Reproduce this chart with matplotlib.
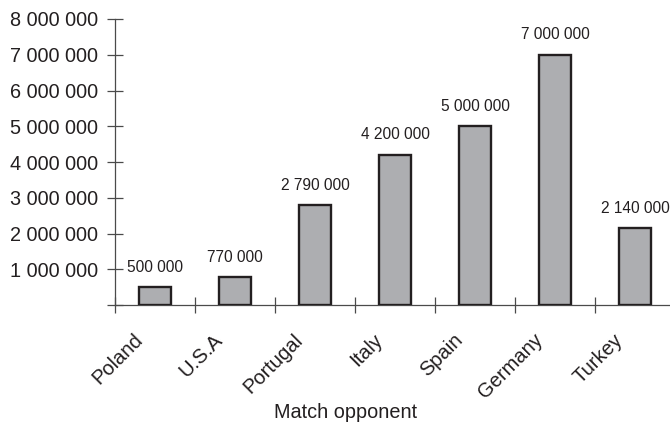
import matplotlib
matplotlib.use("Agg")
from matplotlib import pyplot as plt
from matplotlib.ticker import FixedLocator, NullFormatter
from matplotlib.transforms import ScaledTranslation
import numpy as np

# match opponents and viewer numbers
opponents = ["Poland", "U.S.A", "Portugal", "Italy", "Spain", "Germany", "Turkey"]
viewers = [500000, 770000, 2790000, 4200000, 5000000, 7000000, 2140000]
y_ticks = [0, 1000000, 2000000, 3000000, 4000000, 5000000, 6000000, 7000000, 8000000]


def spaced(n):
    # 2790000 -> "2 790 000"
    return "{:,}".format(n).replace(",", " ")


plt.rcParams["font.family"] = ["Liberation Sans", "DejaVu Sans"]
text_col = "#231f20"
axis_col = "#4a4a4a"

fig = plt.figure(figsize=(6.70, 4.25), dpi=100)
W, H = 670.0, 425.0
# plot area: y axis at x=115px, zero line at y=305px, top tick at y=19px, 80px per category
ax = fig.add_axes([115 / W, 1 - 305 / H, 560 / W, (305 - 19) / H])

x = np.arange(len(opponents))
ax.bar(x, viewers, width=0.41, color="#adaeb1", edgecolor="#231f20", linewidth=1.7, zorder=3)

for xi, v in zip(x, viewers):
    ax.annotate(spaced(v), (xi, v), xytext=(0, 9), textcoords="offset points",
                ha="center", va="bottom", fontsize=11.2, color=text_col)

ax.set_xlim(-0.5, len(opponents) - 0.5)
ax.set_ylim(0, 8000000)

# y axis
ax.set_yticks(y_ticks)
ax.set_yticklabels([""] + [spaced(t) for t in y_ticks[1:]])
ax.tick_params(axis="y", direction="inout", length=11, width=0.9, color=axis_col,
               labelsize=14.3, labelcolor=text_col, pad=7)

# x axis: tick marks between categories, names under each bar
ax.xaxis.set_major_locator(FixedLocator(np.arange(-0.5, len(opponents) - 0.5, 1.0)))
ax.xaxis.set_major_formatter(NullFormatter())
ax.set_xticks(x, minor=True)
ax.set_xticklabels(opponents, minor=True, rotation=45, ha="right", va="top",
                   rotation_mode="anchor")
ax.tick_params(axis="x", which="major", direction="inout", length=11, width=0.9, color=axis_col)
ax.tick_params(axis="x", which="minor", length=0, labelsize=14.5, labelcolor=text_col, pad=18)
shift = ScaledTranslation(-0.22, 0, fig.dpi_scale_trans)
for lab in ax.get_xticklabels(minor=True):
    lab.set_transform(lab.get_transform() + shift)

ax.set_xlabel("Match opponent", fontsize=14.3, color=text_col)
ax.xaxis.set_label_coords((346 - 115) / 560, -(418 - 305) / 286, transform=ax.transAxes)
ax.xaxis.label.set_va("baseline")

for side in ("top", "right"):
    ax.spines[side].set_visible(False)
for side in ("left", "bottom"):
    ax.spines[side].set_color(axis_col)
    ax.spines[side].set_linewidth(0.9)

fig.savefig("out.png", dpi=100, facecolor="white")
